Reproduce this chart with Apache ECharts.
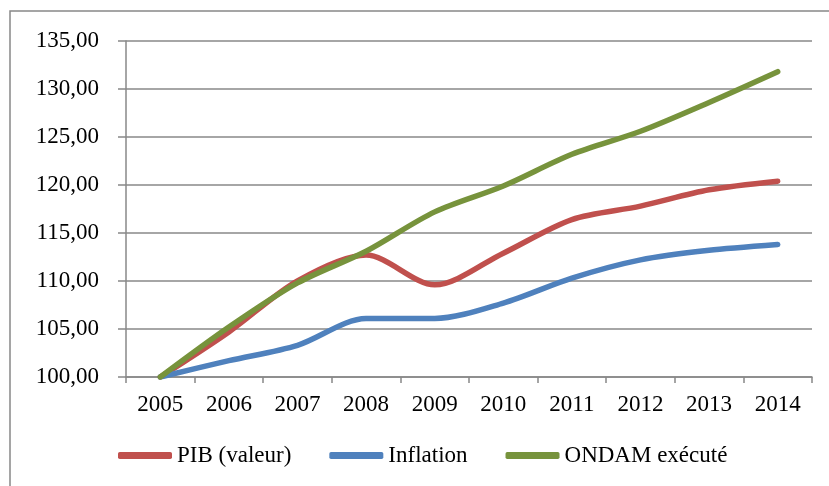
<!DOCTYPE html>
<html>
<head>
<meta charset="utf-8">
<script src="https://cdn.jsdelivr.net/npm/echarts@6/dist/echarts.min.js"></script>
<style>
  html, body { margin: 0; padding: 0; background: #fff; }
  #chart { width: 829px; height: 486px; }
</style>
</head>
<body>
<div id="chart"></div>
<script>
// données (base 100 en 2005)
const years = ['2005', '2006', '2007', '2008', '2009', '2010', '2011', '2012', '2013', '2014']
const pib = [100, 104.7, 110.0, 112.7, 109.6, 112.9, 116.4, 117.8, 119.5, 120.4]
const inflation = [100, 101.7, 103.3, 106.1, 106.1, 107.7, 110.3, 112.2, 113.2, 113.8]
const ondam = [100, 105.2, 109.8, 113.1, 117.2, 119.9, 123.2, 125.6, 128.6, 131.8]

const font = 'Liberation Serif, Times New Roman, serif'
const gridColor = '#888'

const chart = echarts.init(document.getElementById('chart'))

const mkSeries = (name, data, color) => ({
  name,
  type: 'line',
  data,
  smooth: 0.3,
  symbol: 'none',
  lineStyle: { color, width: 5.5, cap: 'round' },
  itemStyle: { color },
})

chart.setOption({
  animation: false,
  backgroundColor: '#fff',
  graphic: [
    {
      type: 'rect',
      shape: { x: 10, y: 11, width: 840, height: 500 },
      style: { fill: 'none', stroke: gridColor, lineWidth: 1.5 },
      silent: true,
    },
  ],
  grid: { left: 126, right: 17, top: 41, bottom: 109 },
  legend: {
    left: 118,
    top: 444,
    padding: 0,
    itemWidth: 54,
    itemHeight: 7,
    itemGap: 38,
    icon: 'roundRect',
    textStyle: { fontFamily: font, fontSize: 23, color: '#000' },
    data: ['PIB (valeur)', 'Inflation', 'ONDAM exécuté'],
  },
  xAxis: {
    type: 'category',
    data: years,
    boundaryGap: true,
    axisLine: { lineStyle: { color: gridColor, width: 1.5 } },
    axisTick: { show: true, length: 6, lineStyle: { color: gridColor, width: 1.5 } },
    axisLabel: { color: '#000', fontFamily: font, fontSize: 23, margin: 16 },
    splitLine: { show: false },
  },
  yAxis: {
    type: 'value',
    min: 100,
    max: 135,
    interval: 5,
    axisLine: { show: true, lineStyle: { color: gridColor, width: 1.5 } },
    axisTick: { show: true, length: 8, lineStyle: { color: gridColor, width: 1.5 } },
    axisLabel: {
      color: '#000',
      fontFamily: font,
      fontSize: 23,
      margin: 27,
      formatter: v => v.toFixed(2).replace('.', ','),
    },
    splitLine: { show: true, lineStyle: { color: gridColor, width: 1.5 } },
  },
  series: [
    mkSeries('PIB (valeur)', pib, '#C0504D'),
    mkSeries('Inflation', inflation, '#4F81BD'),
    mkSeries('ONDAM exécuté', ondam, '#77933C'),
  ],
})
</script>
</body>
</html>
